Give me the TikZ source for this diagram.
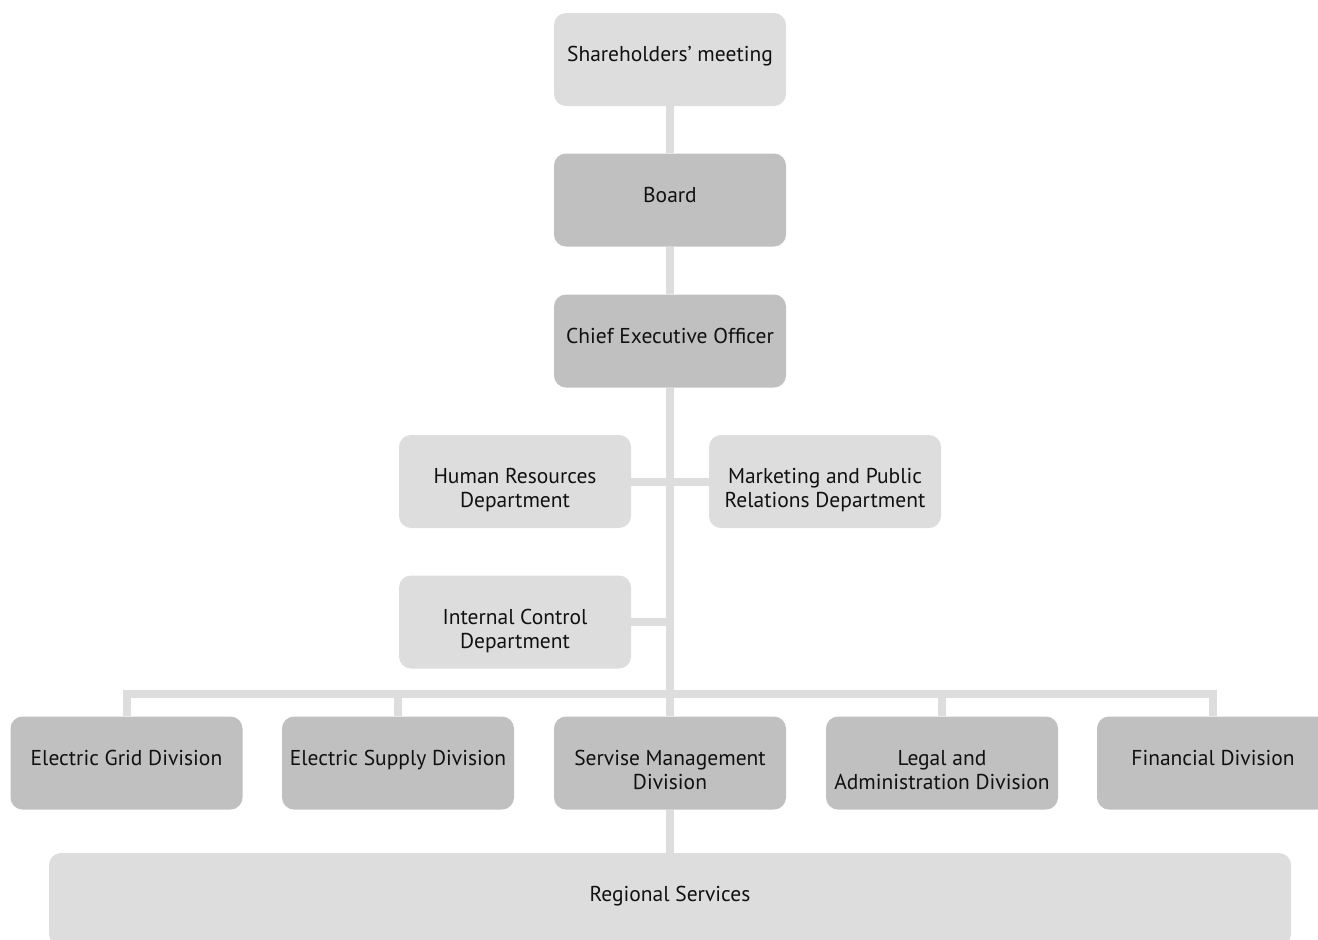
\documentclass[tikz,border=0pt]{standalone}
\usepackage{fontspec}
\setmainfont{PT Sans}
\usetikzlibrary{backgrounds}
\definecolor{lightbox}{HTML}{DDDDDD}
\definecolor{darkbox}{HTML}{C0C0C0}
\definecolor{conn}{HTML}{DDDDDD}
\definecolor{txt}{HTML}{111111}
\newcommand{\bx}[2][232pt]{\parbox[t][93pt][t]{#1}{\centering\rule{0pt}{48.5pt}#2}}
\begin{document}
\begin{tikzpicture}[x=1pt,y=-1pt,
  boxbase/.style={rectangle, rounded corners=12pt, inner sep=0pt, text=txt,
    font=\fontsize{21.5}{24}\selectfont},
  lightb/.style={boxbase, fill=lightbox},
  darkb/.style={boxbase, fill=darkbox},
  link/.style={draw=conn, line width=8pt}]
\useasboundingbox (0,0) rectangle (1318,940);
\clip (0,0) rectangle (1318,940);
\node[lightb] (sh) at (670,59.5) {\bx{Shareholders' meeting}};
\node[darkb] (board) at (670,200) {\bx{Board}};
\node[darkb] (ceo) at (670,341) {\bx{Chief Executive Officer}};
\node[lightb] (hr) at (515,481.5) {\bx{Human Resources\\Department}};
\node[lightb] (mk) at (825,481.5) {\bx{Marketing and Public\\Relations Department}};
\node[lightb] (ic) at (515,622) {\bx{Internal Control\\Department}};
\node[darkb] (eg) at (126.5,763) {\bx{Electric Grid Division}};
\node[darkb] (es) at (398,763) {\bx{Electric Supply Division}};
\node[darkb] (ss) at (670,763) {\bx{Servise Management\\Division}};
\node[darkb] (lg) at (942,763) {\bx{Legal and\\Administration Division}};
\node[darkb] (fin) at (1213,763) {\bx{Financial Division}};
\node[lightb] (reg) at (670,899.5) {\bx[1242pt]{Regional Services}};
\coordinate (bus) at (670,694);
\begin{scope}[on background layer]
\draw[link] (sh.south) -- (board.north);
\draw[link] (board.south) -- (ceo.north);
\draw[link] (ceo.south) -- (ss.north);
\draw[link] (ss.south) -- (reg.north);
\draw[link] (hr.east) -- (mk.west);
\draw[link] (ic.east) -- (ic.east -| ceo.south);
\draw[link] (eg.north) -- (eg.north |- bus) -- (fin.north |- bus) -- (fin.north);
\draw[link] (es.north) -- (es.north |- bus);
\draw[link] (lg.north) -- (lg.north |- bus);
\end{scope}
\end{tikzpicture}
\end{document}
